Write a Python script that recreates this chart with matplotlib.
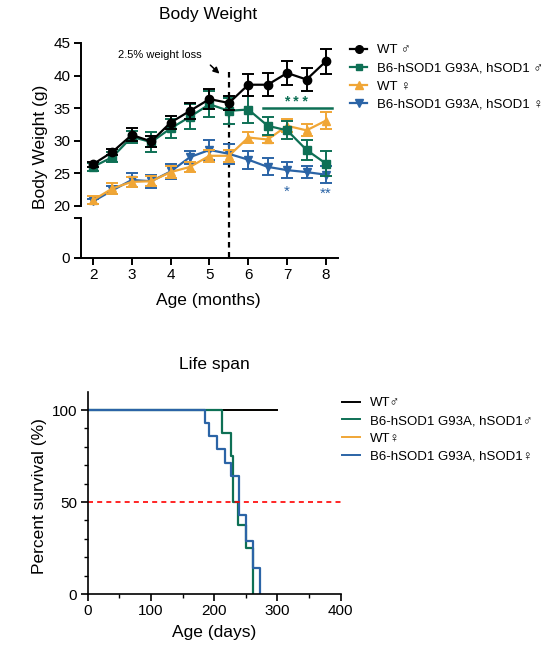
import numpy as np
import matplotlib
matplotlib.use("Agg")
import matplotlib.pyplot as plt
from matplotlib.lines import Line2D

plt.rcParams['font.family'] = ['Liberation Sans', 'DejaVu Sans']

# body weight, months
months = [2, 2.5, 3, 3.5, 4, 4.5, 5, 5.5, 6, 6.5, 7, 7.5, 8]
wt_m = [26.4, 28.3, 30.9, 29.9, 32.8, 34.6, 36.4, 35.8, 38.6, 38.6, 40.4, 39.4, 42.2]
wt_m_err = [0.4, 0.5, 1.0, 0.8, 1.0, 1.2, 1.5, 1.0, 1.7, 1.8, 1.8, 1.7, 1.9]
sod_m = [26.0, 27.5, 30.6, 29.8, 31.9, 33.7, 35.6, 34.6, 34.8, 32.3, 31.6, 28.6, 26.5]
sod_m_err = [0.6, 0.8, 0.9, 1.5, 1.5, 1.9, 2.0, 2.0, 2.1, 1.4, 1.4, 1.5, 1.9]
wt_f = [20.9, 22.7, 23.7, 23.8, 25.2, 26.0, 27.7, 27.7, 30.5, 30.2, 32.3, 31.6, 33.1]
wt_f_err = [0.6, 0.8, 0.8, 0.8, 0.9, 0.8, 0.9, 0.9, 0.8, 0.5, 1.0, 0.9, 1.3]
sod_f = [20.7, 22.4, 24.0, 23.8, 25.3, 27.5, 28.6, 28.0, 27.1, 26.0, 25.5, 25.2, 24.8]
sod_f_err = [0.4, 0.6, 1.1, 1.0, 1.2, 1.0, 1.5, 1.5, 1.4, 1.3, 1.2, 0.9, 1.3]

# survival (Kaplan-Meier steps)
wt_days = [0, 300]
wt_surv = [100, 100]
sod_m_days = [0, 213, 227, 229, 237, 250, 262]
sod_m_surv = [100, 87.5, 75, 50, 37.5, 25, 0]
sod_f_days = [0, 185, 191, 205, 217, 227, 239, 250, 262, 272]
sod_f_surv = [100, 92.9, 85.7, 78.6, 71.4, 64.3, 42.9, 28.6, 14.3, 0]

top_labels = ["WT \u2642", "B6-hSOD1 G93A, hSOD1 \u2642", "WT \u2640", "B6-hSOD1 G93A, hSOD1 \u2640"]
bot_labels = ["WT\u2642", "B6-hSOD1 G93A, hSOD1\u2642", "WT\u2640", "B6-hSOD1 G93A, hSOD1\u2640"]

renk = ["#000000", "#0e7055", "#f0a636", "#2b64a6"]
markers = ["o", "s", "^", "v"]
msize = [6, 5.5, 6, 6]

W, H = 560, 652
fig = plt.figure(figsize=(W / 100, H / 100), dpi=100)

def fx(px):
    return px / W

def fy(py):
    return 1 - py / H

lw_ax = 1.4

# %% body weight - upper segment
ax1 = fig.add_axes([fx(80.7), fy(206), fx(338 - 80.7), (206 - 43) / H])
ax2 = fig.add_axes([fx(80.7), fy(258), fx(338 - 80.7), (258 - 218) / H])

xl = (1.683, 8.31)
series = [(wt_m, wt_m_err), (sod_m, sod_m_err), (wt_f, wt_f_err), (sod_f, sod_f_err)]
for i in [3, 2, 1, 0]:
    y, e = series[i]
    ax1.errorbar(months, y, yerr=e, color=renk[i], marker=markers[i], ms=msize[i],
                 lw=1.6, elinewidth=1.4, capsize=4.5, capthick=1.4, clip_on=False, zorder=3 + (3 - i))

ax1.set_xlim(xl)
ax1.set_ylim(20, 45)
ax1.set_yticks([20, 25, 30, 35, 40, 45])
ax1.set_xticks([])
for s in ["top", "right", "bottom"]:
    ax1.spines[s].set_visible(False)
ax1.spines["left"].set_linewidth(lw_ax)
ax1.tick_params(axis="y", direction="out", length=5, width=lw_ax, labelsize=11, pad=2.5)
ax1.patch.set_alpha(0)

# 5.5 month dashed line goes through the break
ax1.plot([5.5, 5.5], [40.6, 20 - 52 / 6.52], color="black", ls=(0, (2.5, 2)), lw=1.6, clip_on=False, zorder=2)
ax1.text(3.73, 43.2, "2.5% weight loss", fontsize=8, ha="center", va="center")
ax1.annotate("", xy=(5.31, 40.0), xytext=(4.97, 41.9),
             arrowprops=dict(arrowstyle="-|>", color="black", lw=1.1, mutation_scale=9))

# significance
ax1.plot([6.38, 8.15], [35, 35], color=renk[1], lw=1.8, clip_on=False)
ax1.text(7.22, 35.4, "* * *", color=renk[1], fontsize=10, ha="center", va="baseline", fontweight="bold")
ax1.text(7.0, 21.6, "*", color=renk[3], fontsize=11, ha="center", va="baseline")
ax1.text(7.98, 21.3, "**", color=renk[3], fontsize=11, ha="center", va="baseline")

# lower segment
ax2.set_xlim(xl)
ax2.set_ylim(0, 40 / 6.52)
ax2.set_yticks([0, 40 / 6.52])
ax2.set_yticklabels(["0", ""])
ax2.set_xticks([2, 3, 4, 5, 6, 7, 8])
for s in ["top", "right"]:
    ax2.spines[s].set_visible(False)
ax2.spines["left"].set_linewidth(lw_ax)
ax2.spines["bottom"].set_linewidth(lw_ax)
ax2.tick_params(direction="out", length=5, width=lw_ax, labelsize=11, pad=2.5)
ax2.patch.set_alpha(0)

fig.text(fx(208), fy(14.5), "Body Weight", fontsize=12.5, ha="center", va="center")
fig.text(fx(208), fy(301), "Age (months)", fontsize=12.5, ha="center", va="center")
fig.text(fx(40.5), fy(147), "Body Weight (g)", fontsize=12.5, ha="center", va="center", rotation=90)

handles = [Line2D([], [], color=renk[i], marker=markers[i], ms=msize[i] - 0.5, lw=1.6) for i in range(4)]
fig.legend(handles, top_labels, loc="upper left", bbox_to_anchor=(fx(350), fy(44)),
           frameon=False, fontsize=9.5, handlelength=1.3, handletextpad=0.75,
           labelspacing=0.45, borderpad=0, borderaxespad=0)

# %% life span
ax3 = fig.add_axes([fx(87.7), fy(594), fx(253), (594 - 391.7) / H])
ax3.step(wt_days, wt_surv, where="post", color=renk[2], lw=1.4)
ax3.step(wt_days, wt_surv, where="post", color=renk[0], lw=1.4)
ax3.step(sod_m_days, sod_m_surv, where="post", color=renk[1], lw=1.6)
ax3.step(sod_f_days, sod_f_surv, where="post", color=renk[3], lw=1.6)
ax3.plot([0, 400], [50, 50], color="red", ls=(0, (3, 2.5)), lw=1.2, clip_on=False)

ax3.set_xlim(0, 400)
ax3.set_ylim(0, 110)
ax3.set_xticks([0, 100, 200, 300, 400])
ax3.set_xticks([50, 150, 250, 350], minor=True)
ax3.set_yticks([0, 50, 100])
ax3.set_yticks([10, 20, 30, 40, 60, 70, 80, 90], minor=True)
for s in ["top", "right"]:
    ax3.spines[s].set_visible(False)
ax3.spines["left"].set_linewidth(1.2)
ax3.spines["bottom"].set_linewidth(1.2)
ax3.tick_params(which="major", direction="out", length=5, width=1.2, labelsize=11, pad=2.5)
ax3.tick_params(which="minor", direction="out", length=3, width=1.0)

fig.text(fx(214), fy(364.5), "Life span", fontsize=12.5, ha="center", va="center")
fig.text(fx(214), fy(632.5), "Age (days)", fontsize=12.5, ha="center", va="center")
fig.text(fx(39.5), fy(496), "Percent survival (%)", fontsize=12.5, ha="center", va="center", rotation=90)

handles2 = [Line2D([], [], color=renk[i], lw=1.4) for i in range(4)]
fig.legend(handles2, bot_labels, loc="upper left", bbox_to_anchor=(fx(342), fy(397)),
           frameon=False, fontsize=9.5, handlelength=1.4, handletextpad=0.7,
           labelspacing=0.42, borderpad=0, borderaxespad=0)

plt.savefig("out.png", dpi=100)
